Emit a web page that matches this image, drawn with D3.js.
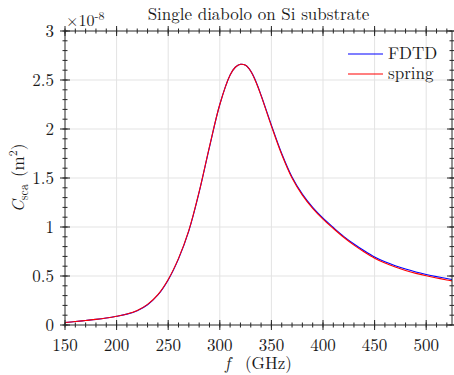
<!DOCTYPE html>
<html>
<head>
<meta charset="utf-8">
<script src="https://cdn.jsdelivr.net/npm/d3@7"></script>
<style>
  body { margin: 0; background: #fff; }
</style>
</head>
<body>
<div id="chart"></div>
<script>
// frequencies in GHz, C_sca in units of 1e-8 m^2
const freq = [150,160,170,180,190,200,210,220,230,240,250,260,270,280,290,300,310,315,320,325,330,335,340,350,360,370,380,390,400,410,420,430,440,450,460,470,480,490,500,510,520,525];
const spring = [0.026,0.035,0.046,0.057,0.071,0.089,0.112,0.148,0.21,0.31,0.465,0.68,0.965,1.36,1.82,2.25,2.55,2.63,2.66,2.65,2.59,2.48,2.34,2.03,1.74,1.50,1.325,1.19,1.08,0.985,0.895,0.815,0.745,0.682,0.632,0.592,0.557,0.527,0.502,0.48,0.46,0.45];
const fdtd = [0.026,0.035,0.046,0.057,0.071,0.089,0.111,0.146,0.207,0.306,0.46,0.675,0.96,1.355,1.815,2.25,2.55,2.63,2.66,2.65,2.59,2.485,2.345,2.04,1.75,1.51,1.335,1.20,1.09,0.995,0.905,0.827,0.757,0.694,0.645,0.605,0.571,0.541,0.516,0.494,0.474,0.465];
const xTicks = [150,200,250,300,350,400,450,500];
const yTicks = [0,0.5,1,1.5,2,2.5,3];

const W = 454, H = 375;
const margin = {top: 31, right: 2, bottom: 50, left: 65};
const width = W - margin.left - margin.right,
      height = H - margin.top - margin.bottom;

const svg = d3.select("#chart").append("svg")
  .attr("width", W).attr("height", H)
  .attr("font-family", "Latin Modern Roman")
  .attr("fill", "#1a1a1a");
const g = svg.append("g")
  .attr("transform", `translate(${margin.left}, ${margin.top})`);

const x = d3.scaleLinear().domain([150, 525]).range([0, width]);
const y = d3.scaleLinear().domain([0, 3]).range([height, 0]);

// grid
g.append("g").selectAll("line").data(xTicks.slice(1)).join("line")
  .attr("x1", d => x(d)).attr("x2", d => x(d))
  .attr("y1", 0).attr("y2", height)
  .attr("stroke", "#e3e3e3").attr("stroke-width", 1);
g.append("g").selectAll("line").data(yTicks.slice(1, -1)).join("line")
  .attr("y1", d => y(d)).attr("y2", d => y(d))
  .attr("x1", 0).attr("x2", width)
  .attr("stroke", "#e3e3e3").attr("stroke-width", 1);

// curves
const line = (vals) => d3.line()
  .x((d, i) => x(freq[i]))
  .y(d => y(d))
  .curve(d3.curveCatmullRom.alpha(0.5))(vals);

g.append("path").attr("d", line(fdtd))
  .attr("fill", "none").attr("stroke", "#0000ff").attr("stroke-width", 1.1);
g.append("path").attr("d", line(spring))
  .attr("fill", "none").attr("stroke", "#ff0000").attr("stroke-width", 1.1);

// axes with crossing ticks
const minorX = d3.range(150, 526, 10);
const minorY = d3.range(0, 3.01, 0.1);
const axisColor = "#262626";

function ticksX(yPos) {
  const a = g.append("g");
  a.append("line").attr("x1", 0).attr("x2", width).attr("y1", yPos).attr("y2", yPos)
    .attr("stroke", axisColor);
  a.selectAll(".mi").data(minorX).join("line")
    .attr("x1", d => x(d)).attr("x2", d => x(d))
    .attr("y1", yPos - 2.5).attr("y2", yPos + 2.5).attr("stroke", axisColor);
  a.selectAll(".ma").data(xTicks).join("line")
    .attr("x1", d => x(d)).attr("x2", d => x(d))
    .attr("y1", yPos - 5).attr("y2", yPos + 5).attr("stroke", axisColor);
}
function ticksY(xPos) {
  const a = g.append("g");
  a.append("line").attr("y1", 0).attr("y2", height).attr("x1", xPos).attr("x2", xPos)
    .attr("stroke", axisColor);
  a.selectAll(".mi").data(minorY).join("line")
    .attr("y1", d => y(d)).attr("y2", d => y(d))
    .attr("x1", xPos - 2.5).attr("x2", xPos + 2.5).attr("stroke", axisColor);
  a.selectAll(".ma").data(yTicks).join("line")
    .attr("y1", d => y(d)).attr("y2", d => y(d))
    .attr("x1", xPos - 5).attr("x2", xPos + 5).attr("stroke", axisColor);
}
ticksX(height); ticksX(0);
ticksY(0); ticksY(width);

// tick labels
g.append("g").selectAll("text").data(xTicks).join("text")
  .attr("x", d => x(d)).attr("y", height + 26)
  .attr("text-anchor", "middle").attr("font-size", 17)
  .text(d => d);
g.append("g").selectAll("text").data(yTicks).join("text")
  .attr("x", -11).attr("y", d => y(d) + 6)
  .attr("text-anchor", "end").attr("font-size", 17)
  .text(d => d);

// exponent
g.append("text").attr("x", 1).attr("y", -5).attr("font-size", 16)
  .html('×10<tspan dy="-6" font-size="12">-8</tspan>');

// title
g.append("text").attr("x", width / 2).attr("y", -11)
  .attr("text-anchor", "middle").attr("font-size", 17)
  .text("Single diabolo on Si substrate");

// x label
g.append("text").attr("x", 160).attr("y", height + 44)
  .attr("font-size", 17).attr("font-style", "italic").text("f");
g.append("text").attr("x", 180).attr("y", height + 44)
  .attr("font-size", 17).text("(GHz)");

// y label
g.append("text")
  .attr("transform", `translate(${-41}, ${height / 2}) rotate(-90)`)
  .attr("text-anchor", "middle").attr("font-size", 17)
  .html('<tspan font-style="italic">C</tspan><tspan dy="4" font-size="12">sca</tspan><tspan dy="-4" dx="7">(m</tspan><tspan dy="-7" font-size="12">2</tspan><tspan dy="7">)</tspan>');

// legend
const legend = [{name: "FDTD", color: "#0000ff"}, {name: "spring", color: "#ff0000"}];
const lg = g.selectAll(".lg").data(legend).join("g")
  .attr("transform", (d, i) => `translate(${283}, ${23 + i * 20})`);
lg.append("line").attr("x1", 0).attr("x2", 35).attr("stroke", d => d.color).attr("stroke-width", 1.1);
lg.append("text").attr("x", 40).attr("y", 5).attr("font-size", 17).text(d => d.name);
</script>
</body>
</html>
